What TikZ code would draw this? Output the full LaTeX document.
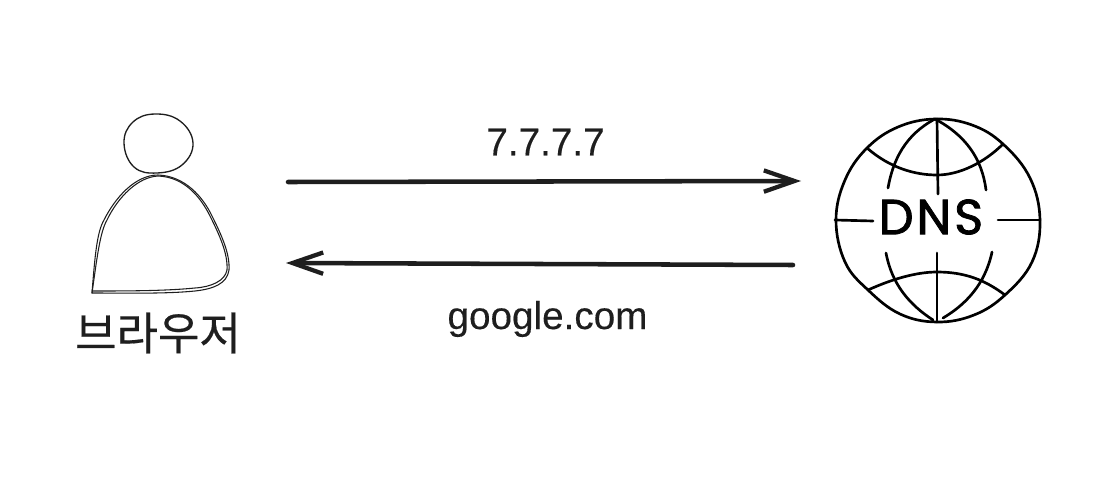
\documentclass[tikz,border=0pt]{standalone}
\usepackage{fontspec}
\setmainfont[FakeBold=0.3]{Liberation Sans}
\newfontfamily\krfont[FakeBold=0.4]{Noto Sans CJK KR}
\newfontfamily\dnsfont[LetterSpace=6, FakeBold=1.6]{Poppins}
\usetikzlibrary{arrows.meta}
\definecolor{inkcol}{HTML}{1E1E1E}
\tikzset{
  sketchthin/.style={draw=inkcol, line width=0.8pt, line cap=round, line join=round},
  globeline/.style={draw=black, line width=2pt, line cap=round, line join=round},
  sendarrow/.style={draw=inkcol, line width=3.4pt, line cap=round, -{Straight Barb[length=23pt, width=16pt, line width=3.2pt]}},
  msglabel/.style={font=\fontsize{29pt}{29pt}\selectfont, text=inkcol, inner sep=0pt},
}
\begin{document}
\begin{tikzpicture}[x=0.75pt, y=-0.75pt, line width=0.6pt]
  \useasboundingbox (0,0) rectangle (1120,492);
  % 사람: 머리와 몸통(두 겹 선)
  \draw[sketchthin, line width=1pt] plot[smooth cycle, tension=0.7] coordinates {(155,114) (180,121) (193,143) (182,165) (157,173) (134,167) (124,143) (133,122)};
  \draw[sketchthin] (92,293) .. controls (95,255) and (97,232) .. (104,220) .. controls (115,198) and (135,175) .. (158,175) .. controls (185,176) and (203,197) .. (212,216) .. controls (222,236) and (230,254) .. (229,270) .. controls (227,284) and (213,289) .. (195,291) .. controls (165,294) and (125,293) .. (92,293);
  \draw[sketchthin] (92,293) .. controls (97,258) and (100,232) .. (107,220) .. controls (118,197) and (138,177) .. (158,176) .. controls (185,177) and (201,198) .. (210,216) .. controls (220,236) and (228,254) .. (227,270) .. controls (225,281) and (211,287) .. (195,288) .. controls (165,291) and (125,291) .. (92,291);
  \node[font=\krfont\fontsize{33.8pt}{33.8pt}\selectfont, text=inkcol, inner sep=0pt] (browser) at (158,333) {브라우저};
  % 화살표
  \coordinate (reqstart) at (288,182);
  \coordinate (reqend) at (801,181);
  \coordinate (respstart) at (793,265);
  \coordinate (respend) at (286,263);
  \draw[sendarrow] (reqstart) -- (reqend);
  \draw[sendarrow] (respstart) -- (respend);
  \node[msglabel] (ipaddr) at (545.5,142) {7.7.7.7};
  \node[msglabel] (domain) at (547.5,319) {google.com};
  % DNS 지구본
  \draw[globeline] plot[smooth cycle, tension=0.65] coordinates {(935,119) (972,125) (1003,144) (1030,178) (1040,220) (1032,262) (1005,295) (974,315) (937,322) (900,314) (868,290) (845,262) (836,220) (845,180) (867,148) (898,127)};
  \draw[globeline] (867,148) .. controls (890,168) and (915,175) .. (937,175) .. controls (960,175) and (985,162) .. (1003,144);
  \draw[globeline] (868,290) .. controls (890,280) and (915,272) .. (937,272) .. controls (965,272) and (985,280) .. (1005,295);
  \draw[globeline] (937,119) -- (938,194);
  \draw[globeline] (937,253) -- (937,322);
  \draw[globeline] (935,119) .. controls (905,135) and (893,160) .. (888,188);
  \draw[globeline] (935,119) .. controls (965,135) and (982,158) .. (986,190);
  \draw[globeline] (886,253) .. controls (892,285) and (910,305) .. (933,320);
  \draw[globeline] (992,252) .. controls (985,285) and (965,305) .. (943,318);
  \draw[globeline] (835,220) -- (873,221);
  \draw[globeline] (998,220) -- (1040,220);
  \node[font=\dnsfont\fontsize{37pt}{37pt}\selectfont, text=black, inner sep=0pt] (dnsname) at (931,217) {DNS};
\end{tikzpicture}
\end{document}
